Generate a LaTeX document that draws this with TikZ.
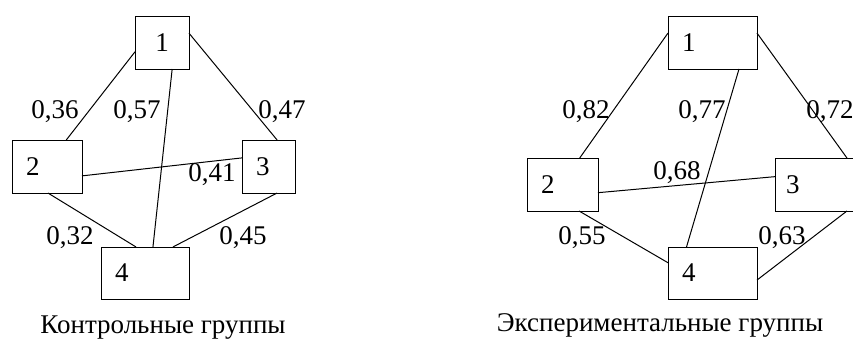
\documentclass[tikz,border=0pt]{standalone}
\usepackage{fontspec}
\setmainfont{Liberation Serif}
\newfontfamily\grpfont{Liberation Serif}
\usepackage{tikz}
\tikzset{
  %% group box
  grp/.style={
    draw, line width=1pt,
    outer sep=0pt,
    inner xsep=14pt, inner ysep=0pt,
    minimum height=53pt,
    text width=#1,
    align=left,
    font=\grpfont\fontsize{27}{32}\selectfont
  },
  grp/.default=26pt,
  %% link between groups
  lnk/.style={line width=1pt},
  %% correlation value
  val/.style={font=\grpfont\fontsize{27}{32}\selectfont, inner sep=0pt},
  %% caption under each graph
  caption/.style={font=\grpfont\fontsize{27}{32}\selectfont, inner sep=0pt}
}
\begin{document}
\begin{tikzpicture}[x=1pt, y=-1pt]

\useasboundingbox (0,0) rectangle (853,340);
\clip (0,0) rectangle (853,340);

% ════════════════════════════════════════════════════════════
% LEFT – CONTROL GROUPS
% ════════════════════════════════════════════════════════════
\node[grp=26pt, align=center] (c1) at (162,42.5)   {1};
\node[grp=42pt]               (c2) at (47,166.5)   {2};
\node[grp=25pt]               (c3) at (268.5,166.5){3};
\node[grp=60pt, minimum height=52pt] (c4) at (145,273) {4};

\draw[lnk] (c1.199) -- (c2.54);
\draw[lnk] (c1.19)  -- (c3.72);
\draw[lnk] (c1.-69) -- (c4.73);
\draw[lnk] (c2.-15) -- (c3.162);
\draw[lnk] (c2.-88) -- (c4.109);
\draw[lnk] (c3.-72) -- (c4.43);

\node[val] (c12) at (55,112)  {0,36};
\node[val] (c14) at (137,112) {0,57};
\node[val] (c13) at (282,112) {0,47};
\node[val] (c23) at (212,175) {0,41};
\node[val] (c24) at (70,238)  {0,32};
\node[val] (c34) at (243,238) {0,45};

\node[caption] (ccap) at (163,328) {Контрольные группы};

% ════════════════════════════════════════════════════════════
% RIGHT – EXPERIMENTAL GROUPS
% ════════════════════════════════════════════════════════════
\node[grp=61pt] (e1) at (712.5,42.5)  {1};
\node[grp=43pt] (e2) at (562.5,184.5) {2};
\node[grp=61pt, inner xsep=11pt, text width=67pt] (e3) at (819.5,184.5) {3};
\node[grp=61pt, minimum height=52pt] (e4) at (712.5,273) {4};

\draw[lnk] (e1.168) -- (e2.57);
\draw[lnk] (e1.12)  -- (e3.44);
\draw[lnk] (e1.-45) -- (e4.135);
\draw[lnk] (e2.-13) -- (e3.170);
\draw[lnk] (e2.-58) -- (e4.167);
\draw[lnk] (e3.-44) -- (e4.-9);

\node[val] (e12) at (586,112) {0,82};
\node[val] (e14) at (702,112) {0,77};
\node[val] (e13) at (830,112) {0,72};
\node[val] (e23) at (677,173) {0,68};
\node[val] (e24) at (582,238) {0,55};
\node[val] (e34) at (782,238) {0,63};

\node[caption] (ecap) at (660,325) {Экспериментальные группы};

\end{tikzpicture}
\end{document}
